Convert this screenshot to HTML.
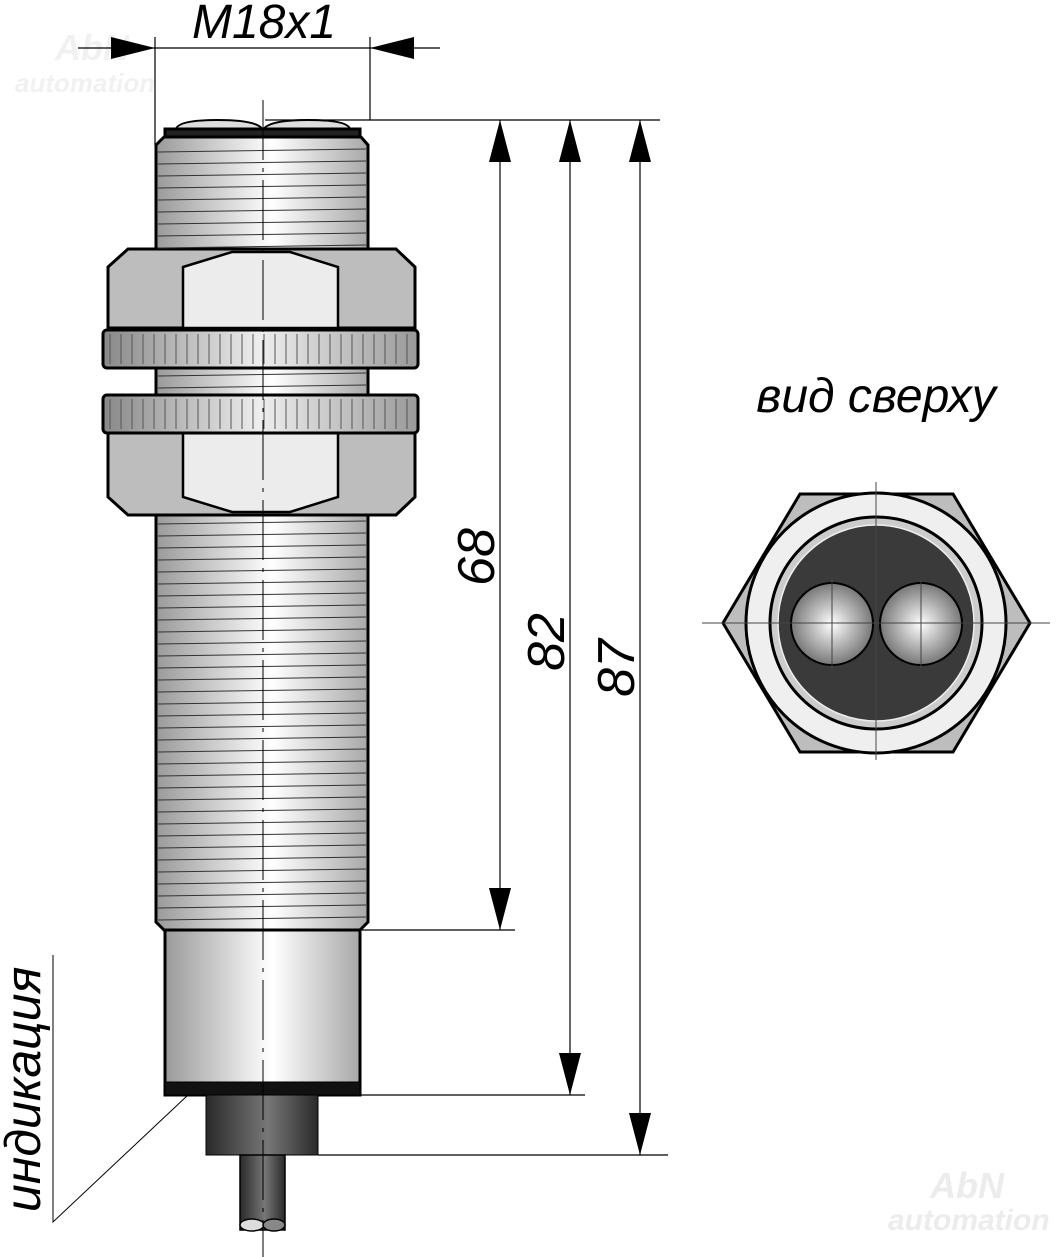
<!DOCTYPE html>
<html><head><meta charset="utf-8"><style>
html,body{margin:0;padding:0;background:#fff}
svg{display:block}
text{font-family:"Liberation Sans",sans-serif;font-style:italic}
</style></head><body>
<svg id="s" width="1059" height="1257" viewBox="0 0 1059 1257" xmlns="http://www.w3.org/2000/svg">
<defs>
<linearGradient id="cyl" x1="0" x2="1" y1="0" y2="0">
<stop offset="0" stop-color="#9a9a9a"/><stop offset="0.55" stop-color="#ffffff"/><stop offset="1" stop-color="#a8a8a8"/></linearGradient>
<linearGradient id="dark" x1="0" x2="1"><stop offset="0" stop-color="#2a2a2a"/><stop offset="0.55" stop-color="#777"/><stop offset="1" stop-color="#2a2a2a"/></linearGradient>
<linearGradient id="knurl" x1="0" x2="1"><stop offset="0" stop-color="#888"/><stop offset="0.5" stop-color="#eee"/><stop offset="1" stop-color="#999"/></linearGradient>
<radialGradient id="ball" cx="0.5" cy="0.5" r="0.5"><stop offset="0" stop-color="#fff"/><stop offset="1" stop-color="#777"/></radialGradient>
</defs>
<text x="15" y="92" font-size="26" fill="#f1f1f1" font-style="normal" font-weight="bold">automation</text>
<text x="55" y="60" font-size="36" fill="#f1f1f1" font-style="normal" font-weight="bold">AbN</text>
<text x="888" y="1230" font-size="30" fill="#ececec" font-style="normal" font-weight="bold">automation</text>
<text x="930" y="1198" font-size="36" fill="#ececec" font-style="normal" font-weight="bold">AbN</text>

<text x="264" y="38" font-size="48" text-anchor="middle">M18x1</text>
<g stroke="#000" stroke-width="1.2">
<line x1="78" y1="48" x2="440" y2="48"/>
<line x1="155" y1="37" x2="155" y2="145"/>
<line x1="370" y1="37" x2="370" y2="120"/>
<line x1="265" y1="120" x2="660" y2="120"/>
<line x1="360" y1="930" x2="515" y2="930"/>
<line x1="360" y1="1095" x2="585" y2="1095"/>
<line x1="318" y1="1155" x2="668" y2="1155"/>
<line x1="500" y1="120" x2="500" y2="930"/>
<line x1="570" y1="120" x2="570" y2="1095"/>
<line x1="640" y1="120" x2="640" y2="1155"/>
</g>
<g fill="#000">
<polygon points="155,48 111,37 111,59"/>
<polygon points="370,48 414,37 414,59"/>
<polygon points="500,120 489,162 511,162"/><polygon points="500,930 489,888 511,888"/>
<polygon points="570,120 559,162 581,162"/><polygon points="570,1095 559,1053 581,1053"/>
<polygon points="640,120 629,162 651,162"/><polygon points="640,1155 629,1113 651,1113"/>
</g>
<text transform="translate(494,557) rotate(-90)" font-size="52" text-anchor="middle">68</text>
<text transform="translate(564,642) rotate(-90)" font-size="52" text-anchor="middle">82</text>
<text transform="translate(634,668) rotate(-90)" font-size="52" text-anchor="middle">87</text>

<g stroke="#000" stroke-width="3">
<path d="M176,130 Q176,120 218,120 Q258,120 263,130 Q268,120 308,120 Q350,120 350,130 Z" fill="#ddd" stroke-width="2"/>
<rect x="165" y="129" width="195" height="8" fill="#222"/>
<path d="M156,145 L164,137 L361,137 L368,145 L368,249 L156,249 Z" fill="url(#cyl)"/>
<path d="M156,515 L368,515 L368,922 L360,930 L164,930 L156,922 Z" fill="url(#cyl)"/>
<rect x="156" y="368" width="212" height="27" fill="url(#cyl)"/>
<path d="M108,267 L128,249 L396,249 L415,267 L415,328 L108,328 Z" fill="#bdbdbd"/>
<path d="M183,267 L232,252 L290,252 L338,267 L338,328 L183,328 Z" fill="#ececec" stroke-width="2.5"/>
<path d="M108,433 L415,433 L415,497 L396,515 L128,515 L108,497 Z" fill="#bdbdbd"/>
<path d="M183,433 L338,433 L338,497 L290,512 L232,512 L183,497 Z" fill="#ececec" stroke-width="2.5"/>
<rect x="103" y="330" width="315" height="38" rx="4" fill="url(#knurl)"/>
<rect x="103" y="395" width="315" height="38" rx="4" fill="url(#knurl)"/>
<rect x="165" y="930" width="195" height="165" fill="url(#cyl)"/>
<rect x="165" y="1082" width="195" height="13" fill="#111" stroke-width="1"/>
<rect x="206" y="1095" width="112" height="60" fill="url(#dark)" stroke-width="1"/>
<rect x="240" y="1155" width="45" height="75" fill="url(#dark)" stroke-width="1.5"/>
<ellipse cx="252" cy="1225" rx="12" ry="6" fill="#ddd" stroke-width="1.5"/>
<ellipse cx="274" cy="1225" rx="11" ry="6" fill="#888" stroke-width="1.5"/>
</g>
<g id="lines" stroke="#333" stroke-width="1"></g>

<line x1="263" y1="100" x2="263" y2="1257" stroke="#000" stroke-width="1" stroke-dasharray="60,8,4,8"/>

<text transform="translate(40,1212) rotate(-90)" font-size="50">индикация</text>
<polyline points="53,955 53,1222 188,1095" fill="none" stroke="#000" stroke-width="1"/>

<text x="876" y="412" font-size="48" text-anchor="middle">вид сверху</text>
<polygon points="800,494 953,494 1030,623 953,752 800,752 723,623" fill="#bdbdbd" stroke="#000" stroke-width="3"/>
<circle cx="876" cy="623" r="130" fill="#efefef" stroke="#000" stroke-width="3"/>
<circle cx="876" cy="623" r="106" fill="#ccc" stroke="#000" stroke-width="3"/>
<circle cx="876" cy="623" r="98" fill="#3a3a3a" stroke="#eee" stroke-width="1.5"/>
<circle cx="832" cy="624" r="41" fill="url(#ball)" stroke="#000" stroke-width="2"/>
<circle cx="921" cy="624" r="41" fill="url(#ball)" stroke="#000" stroke-width="2"/>
<g stroke="#444" stroke-width="1">
<line x1="702" y1="623" x2="1050" y2="623"/>
<line x1="876" y1="482" x2="876" y2="760"/>
<line x1="832" y1="578" x2="832" y2="670"/>
<line x1="921" y1="580" x2="921" y2="668"/>
</g>
</svg>
<script>
var g=document.getElementById('lines'),ns='http://www.w3.org/2000/svg';
function L(a,b,c,d,w,col){var l=document.createElementNS(ns,'line');l.setAttribute('x1',a);l.setAttribute('y1',b);l.setAttribute('x2',c);l.setAttribute('y2',d);if(w)l.setAttribute('stroke-width',w);if(col)l.setAttribute('stroke',col);g.appendChild(l);}
for(var y=150;y<248;y+=12)L(158,y+2,366,y-1);
for(var y=374;y<394;y+=12)L(158,y+2,366,y-1);
for(var y=522;y<920;y+=12)L(158,y+2,366,y-1);
for(var x=110;x<416;x+=11){L(x,334,x,364,1,'#555');L(x,399,x,429,1,'#555');}
</script>
</body></html>
